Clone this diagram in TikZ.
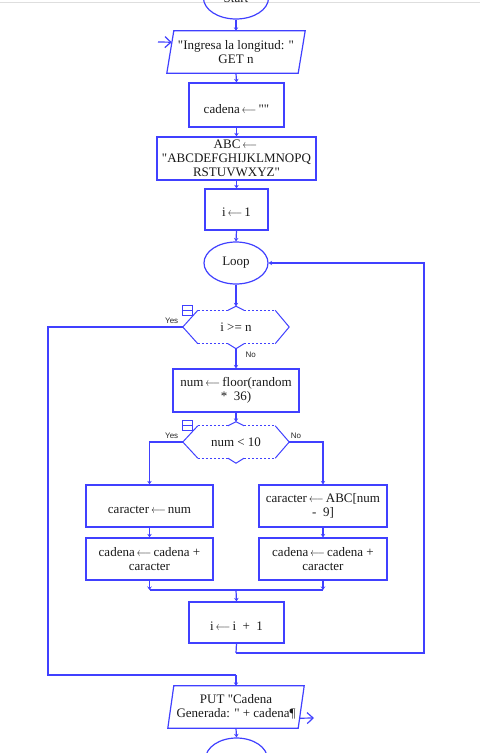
\documentclass[tikz,border=0pt]{standalone}
\usepackage{graphicx}
\usepackage{fontspec}
\setmainfont{Liberation Serif}[Ligatures=TeXOff]
\newfontfamily\lblfont{Liberation Sans}
\usetikzlibrary{arrows.meta,calc,shapes.geometric}
\definecolor{fcblue}{RGB}{64,64,255}
\definecolor{topgray}{RGB}{222,222,222}
\newcommand{\asgn}{\,\scalebox{0.75}[1]{$\longleftarrow$}\,}
\newcommand{\hexdec}[1]{%
  \draw[hexln] ($(#1.north west)+(15,0)$) -- (#1.west) -- ($(#1.south west)+(15,0)$);
  \draw[hexln] ($(#1.north east)+(-14,0)$) -- (#1.east) -- ($(#1.south east)+(-14,0)$);
  \draw[dotln] ($(#1.north west)+(15,0)$) -- ($(#1.north)+(-8,0)$);
  \draw[dotln] ($(#1.north)+(8,0)$) -- ($(#1.north east)+(-14,0)$);
  \draw[dotln] ($(#1.south west)+(15,0)$) -- ($(#1.south)+(-8,0)$);
  \draw[dotln] ($(#1.south)+(8,0)$) -- ($(#1.south east)+(-14,0)$);
  \draw[hexln] ($(#1.north)+(-8,0)$) -- ($(#1.north)+(0,-4)$) -- ($(#1.north)+(8,0)$);
  \draw[hexln] ($(#1.south)+(-8,0)$) -- ($(#1.south)+(0,5)$) -- ($(#1.south)+(8,0)$);
  \draw[hexln,fill=white] ($(#1.north west)+(0,-5)$) rectangle ($(#1.north west)+(10,5)$);
  \draw[hexln] ($(#1.north west)+(0,0)$) -- ($(#1.north west)+(10,0)$);
}
\begin{document}
\begin{tikzpicture}[x=1pt,y=-1pt,
  ln/.style={draw=fcblue,line width=1.2pt},
  hexln/.style={draw=fcblue,line width=1pt},
  dotln/.style={draw=fcblue,line width=0.9pt,dash pattern=on 2pt off 2pt},
  arr/.style={ln,-{Stealth[length=3.5pt,width=4.5pt]}},
  openarr/.style={ln,-{Straight Barb[length=6pt,width=11pt]}},
  txt/.style={font=\fontsize{13}{14}\selectfont,align=center,inner sep=0pt,text=black!90},
  boxnode/.style={txt,draw=fcblue,line width=1.2pt,rectangle},
  ionode/.style={txt,rectangle,draw=none},
  term/.style={txt,ellipse,draw=fcblue,line width=1.2pt,inner sep=0pt},
  decnode/.style={txt,rectangle,draw=none,minimum width=106pt},
  lbl/.style={font=\lblfont\fontsize{8}{9}\selectfont,inner sep=0pt,text=black!85}
]
\useasboundingbox (0,0) rectangle (480,753);
\clip (0,0) rectangle (480,753);
\draw[topgray,line width=1pt] (0,2) -- (480,2);

% nodes
\node[term,minimum width=65pt,minimum height=42pt] (start) at (236,-2) {Start};
\node[ionode,minimum width=138pt,minimum height=42pt] (io1) at (236,52) {"Ingresa la longitud: "\\GET n};
\draw[ln] (io1.south west) -- ($(io1.north west)+(7,0)$) -- (io1.north east) -- ($(io1.south east)+(-7,0)$) -- cycle;
\node[boxnode,minimum width=95pt,minimum height=44pt] (b1) at (236.5,105) {\raisebox{-4pt}[\height][\depth]{cadena\asgn""}};
\node[boxnode,minimum width=159pt,minimum height=43pt] (b2) at (236.5,158.5) {ABC\asgn\\"ABCDEFGHIJKLMNOPQ\\RSTUVWXYZ"};
\node[boxnode,minimum width=63pt,minimum height=41pt] (b3) at (236.5,209.5) {\raisebox{-2.5pt}[\height][\depth]{i\asgn1}};
\node[term,minimum width=64pt,minimum height=42pt] (loop) at (236,263) {Loop};
\node[decnode,minimum height=33pt] (d1) at (236,327) {i >= n};
\node[boxnode,minimum width=126pt,minimum height=43pt] (b4) at (236,390.5) {num\asgn floor(random\\*~~36)};
\node[decnode,minimum height=32pt] (d2) at (236,442) {num < 10};
\node[boxnode,minimum width=127pt,minimum height=42pt] (b5) at (149.5,506) {\raisebox{-4pt}[\height][\depth]{caracter\asgn num}};
\node[boxnode,minimum width=128pt,minimum height=42pt] (b6) at (323,506) {caracter\asgn ABC[num\\-~~9]};
\node[boxnode,minimum width=127pt,minimum height=42pt] (b7) at (149.5,559) {cadena\asgn cadena +\\caracter};
\node[boxnode,minimum width=128pt,minimum height=42pt] (b8) at (323,559) {cadena\asgn cadena +\\caracter};
\node[boxnode,minimum width=95pt,minimum height=41pt] (b9) at (236.5,622.5) {\raisebox{-3.5pt}[\height][\depth]{i\asgn i~~+~~1}};
\node[ionode,minimum width=136pt,minimum height=42pt] (io2) at (236,707) {PUT "Cadena\\Generada: " + cadena¶};
\draw[ln] (io2.south west) -- ($(io2.north west)+(6,0)$) -- (io2.north east) -- ($(io2.south east)+(-6,0)$) -- cycle;
\node[term,minimum width=62pt,minimum height=42pt] (end) at (236.5,759) {};

\hexdec{d1}
\hexdec{d2}

\coordinate (inarrow) at (158,42);
\coordinate (outarrow) at (314,718);
\coordinate (merge) at (236,590);
\coordinate (back) at (236,653);
\coordinate (join) at (236,675);

% connectors
\draw[openarr] (inarrow) -- ($(io1.south west)+(5,-31)$);
\draw[openarr] ($(io2.south east)+(-4,-10)$) -- (outarrow);
\draw[arr] (start.south) -- (io1.north);
\draw[arr] (io1.south) -- (b1.north);
\draw[arr] (b1.south) -- (b2.north);
\draw[arr] (b2.south) -- (b3.north);
\draw[arr] (b3.south) -- (loop.north);
\draw[arr] (loop.south) -- ($(d1.north)+(0,-4)$);
\draw[arr] ($(d1.south)+(0,5)$) -- node[lbl,pos=0.3,anchor=west,xshift=9pt]{No} (b4.north);
\draw[ln] (d1.west) node[lbl,anchor=south east,xshift=-4pt,yshift=2.5pt]{Yes} -- (48,327) -- (48,675) -- (join);
\draw[arr] (join) -- (io2.north);
\draw[arr] (b4.south) -- ($(d2.north)+(0,-4)$);
\draw[arr] (d2.west) node[lbl,anchor=south east,xshift=-4pt,yshift=2.5pt]{Yes} -| (b5.north);
\draw[arr] (d2.east) node[lbl,anchor=south west,xshift=1pt,yshift=2.5pt]{No} -| (b6.north);
\draw[arr] (b5.south) -- (b7.north);
\draw[arr] (b6.south) -- (b8.north);
\draw[arr] (b7.south) -- (b7.south |- merge);
\draw[arr] (b8.south) -- (b8.south |- merge);
\draw[ln] (b7.south |- merge) -- (b8.south |- merge);
\draw[arr] (merge) -- (b9.north);
\draw[ln] (b9.south) -- (back);
\draw[arr] (back) -- (424,653) -- (424,263) -- (loop.east);
\draw[arr] (io2.south) -- (end.north);
\end{tikzpicture}
\end{document}
